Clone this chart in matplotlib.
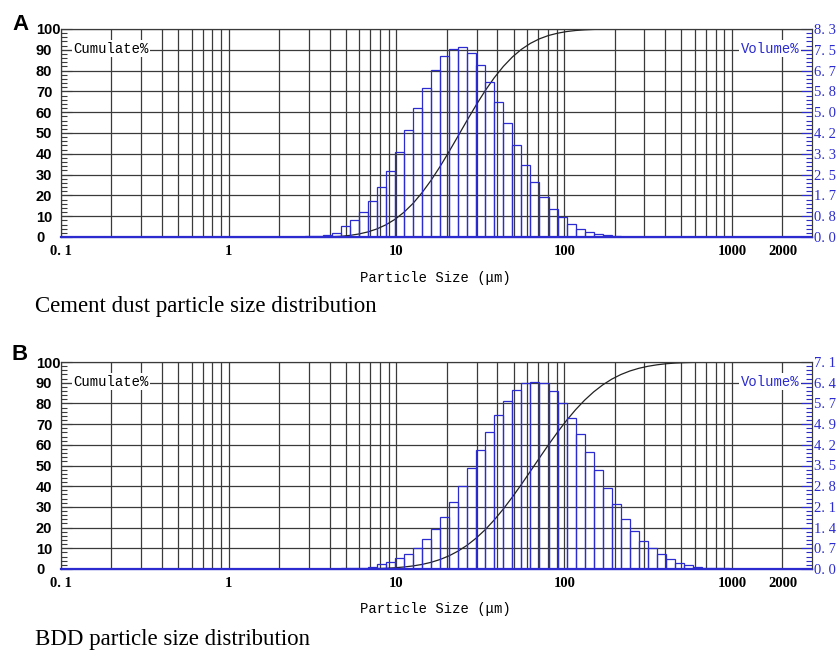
import numpy as np
import matplotlib.pyplot as plt


# channel edges of the size analyser (um)
edges = [1.955, 2.213, 2.505, 2.836, 3.21, 3.63, 4.11, 4.65, 5.27, 5.96,
         6.75, 7.64, 8.65, 9.79, 11.08, 12.55, 14.20, 16.08, 18.20, 20.61,
         23.33, 26.41, 29.90, 33.84, 38.31, 43.37, 49.10, 55.6, 62.9, 71.2,
         80.6, 91.3, 103.3, 117.0, 132.4, 149.9, 169.7, 192.1, 217.5, 246.2,
         278.7, 315.5, 357.2, 404.3, 457.7, 518.1, 586.5, 663.9, 751.5, 850.7,
         963.0, 1090.0]

# volume % per channel
vol_cement = [0.004, 0.008, 0.017, 0.025,
              0.04, 0.08, 0.17, 0.42, 0.68, 0.99, 1.44, 1.98, 2.63, 3.40,
              4.26, 5.14, 5.96, 6.66, 7.22, 7.49, 7.57, 7.33, 6.87, 6.20,
              5.40, 4.53, 3.69, 2.86, 2.18, 1.59, 1.10, 0.79, 0.51, 0.32,
              0.20, 0.10, 0.06, 0.025, 0.012, 0.004,
              0, 0, 0, 0, 0, 0, 0, 0, 0, 0, 0]

vol_bdd = [0, 0, 0, 0,
           0.003, 0.006, 0.011, 0.018, 0.028, 0.05, 0.085, 0.163, 0.234, 0.369,
           0.518, 0.731, 1.015, 1.370, 1.796, 2.293, 2.847, 3.451, 4.083, 4.707,
           5.290, 5.772, 6.142, 6.369, 6.426, 6.369, 6.092, 5.694, 5.190, 4.615,
           3.997, 3.380, 2.776, 2.215, 1.725, 1.306, 0.973, 0.710, 0.511, 0.334,
           0.199, 0.128, 0.078, 0.043, 0.036, 0.021, 0.011]

vmax_cement = 8.3
vmax_bdd = 7.1
rlabels_cement = ["0. 0", "0. 8", "1. 7", "2. 5", "3. 3", "4. 2", "5. 0", "5. 8", "6. 7", "7. 5", "8. 3"]
rlabels_bdd = ["0. 0", "0. 7", "1. 4", "2. 1", "2. 8", "3. 5", "4. 2", "4. 9", "5. 7", "6. 4", "7. 1"]

x_major = [0.1, 1, 10, 100, 1000, 2000]
x_labels = ["0. 1", "1", "10", "100", "1000", "2000"]
left_ticks = list(range(0, 101, 10))

blue = "#2b2bd0"
gridc = "#3a3a3a"
W, H = 837, 650

fig = plt.figure(figsize=(8.37, 6.5), dpi=100)


def draw_panel(rect, vol, vmax, rlabels):
    ax = fig.add_axes(rect)
    ax.set_xscale("log")
    ax.set_xlim(0.1, 3000)
    ax.set_ylim(0, 100)

    minor = [m * 10.0 ** d for d in range(-1, 4) for m in range(2, 10)]
    minor = [v for v in minor if v < 3000 and v != 2000]
    ax.set_xticks(x_major)
    ax.set_xticklabels(x_labels, family="Liberation Serif", fontsize=10.5, weight="bold")
    ax.set_xticks(minor, minor=True)
    ax.xaxis.set_minor_formatter(plt.NullFormatter())
    ax.tick_params(axis="x", which="both", length=0, pad=6)

    ax.set_yticks(left_ticks)
    ax.set_yticks(np.arange(0, 101, 2), minor=True)
    ax.tick_params(axis="y", which="major", direction="in", length=8, width=0.8,
                   color=gridc, labelsize=10.5, pad=18)
    ax.tick_params(axis="y", which="minor", direction="in", length=4, width=0.8, color=gridc)
    plt.setp(ax.get_yticklabels(), ha="left", family="Liberation Sans", weight="bold")

    ax.grid(True, which="both", axis="x", color=gridc, lw=0.9)
    ax.grid(True, which="major", axis="y", color=gridc, lw=0.9)
    ax.set_axisbelow(True)
    for s in ["top", "left", "right"]:
        ax.spines[s].set_color(gridc)
    ax.spines["bottom"].set_color(blue)

    # cumulative curve
    cum = np.cumsum(vol) / np.sum(vol) * 100
    ax.plot([edges[0]] + edges[1:], [0] + list(cum), color="#222222", lw=0.9)

    ax.text(0.016, 90.5, "Cumulate%", transform=ax.get_yaxis_transform(),
            family="Liberation Mono", fontsize=10, va="center", ha="left",
            bbox=dict(fc="white", ec="none", pad=1))
    ax.text(0.983, 90.5, "Volume%", transform=ax.get_yaxis_transform(),
            family="Liberation Mono", fontsize=10, va="center", ha="right", color=blue,
            bbox=dict(fc="white", ec="none", pad=1))

    ax2 = ax.twinx()
    ax2.set_ylim(0, vmax)
    ax2.bar(edges[:-1], vol, width=np.diff(edges), align="edge", fill=False,
            edgecolor=blue, linewidth=0.9)
    ax2.axhline(0, color=blue, lw=1.6, clip_on=False)
    ax2.set_yticks([vmax * k / 10 for k in range(11)])
    ax2.set_yticklabels(rlabels, family="Liberation Serif", fontsize=10.5, color=blue)
    ax2.set_yticks([vmax * k / 50 for k in range(51)], minor=True)
    ax2.tick_params(axis="y", which="major", direction="in", length=8, width=0.8,
                    color=blue, pad=1.5)
    ax2.tick_params(axis="y", which="minor", direction="in", length=4, width=0.8, color=blue)
    ax2.spines["bottom"].set_color(blue)
    for s in ["top", "left", "right"]:
        ax2.spines[s].set_color(gridc)
    return ax


draw_panel([61 / W, 1 - 237 / H, 751 / W, 208 / H], vol_cement, vmax_cement, rlabels_cement)
draw_panel([61 / W, 1 - 569 / H, 751 / W, 207 / H], vol_bdd, vmax_bdd, rlabels_bdd)

fig.text(12 / W, 1 - 24 / H, "A", fontsize=16, weight="bold", family="Liberation Sans", va="center")
fig.text(12 / W, 1 - 354 / H, "B", fontsize=16, weight="bold", family="Liberation Sans", va="center")

fig.text(435 / W, 1 - 278 / H, "Particle Size (μm)", family="Liberation Mono", fontsize=10,
         ha="center", va="center")
fig.text(435 / W, 1 - 609 / H, "Particle Size (μm)", family="Liberation Mono", fontsize=10,
         ha="center", va="center")

fig.text(35 / W, 1 - 312 / H, "Cement dust particle size distribution", family="Liberation Serif",
         fontsize=16.5, va="baseline")
fig.text(35 / W, 1 - 645 / H, "BDD particle size distribution", family="Liberation Serif",
         fontsize=16.5, va="baseline")

fig.savefig("out.png", dpi=100)
